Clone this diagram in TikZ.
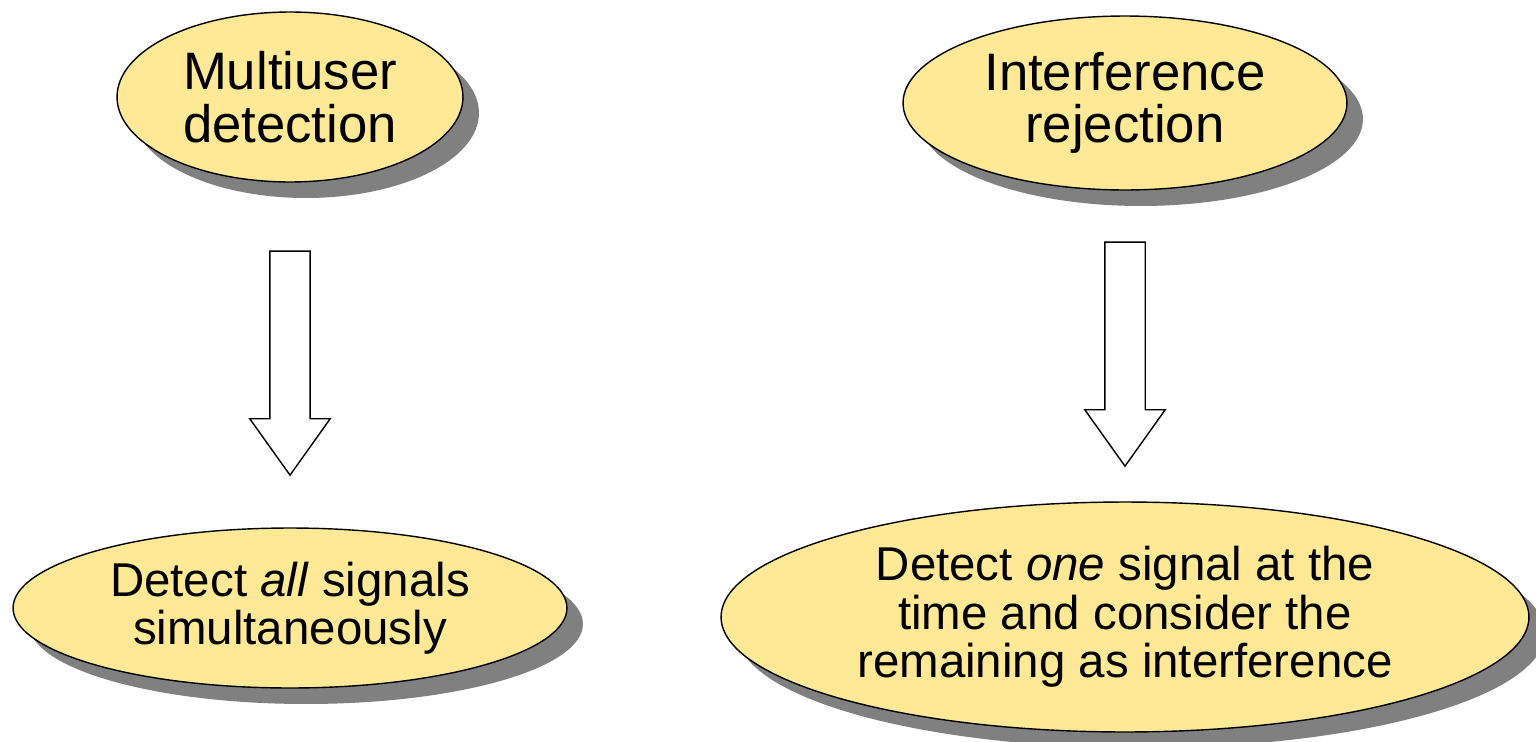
\documentclass[tikz,border=0pt]{standalone}
\usepackage{fontspec}
\setmainfont{Liberation Sans}
\usetikzlibrary{shapes.geometric,shapes.arrows,shadows}
\definecolor{ovalfill}{RGB}{255,233,150}
\definecolor{shadowgray}{RGB}{128,128,128}

\begin{document}
\begin{tikzpicture}[x=0.02cm,y=-0.02cm,line width=0.8pt,
    oval/.style={ellipse,draw,fill=ovalfill,inner sep=0pt,align=center,
      drop shadow={shadow xshift=0.32cm,shadow yshift=-0.32cm,fill=shadowgray,opacity=1}},
    big text/.style={font=\fontsize{30}{30}\selectfont},
    small text/.style={font=\fontsize{27}{27.5}\selectfont},
    blockarrow/.style={single arrow,draw,fill=white,rotate=-90,inner xsep=0pt,inner ysep=0.39cm,
      minimum height=4.48cm,single arrow head extend=0.4cm,single arrow tip angle=71}]

    \useasboundingbox (0,0) rectangle (1536,741);

    \node[oval,big text,minimum width=6.92cm,minimum height=3.4cm] (mud) at (290,97) {Multiuser\\detection};
    \node[oval,big text,minimum width=8.88cm,minimum height=3.48cm] (ir) at (1125,103) {Interference\\rejection};

    \node[blockarrow] (arrL) at (290,349) {};
    \node[blockarrow] (arrR) at (1125,340) {};

    \node[oval,small text,minimum width=11.08cm,minimum height=3.2cm] (all) at (290,608) {Detect \textit{all} signals\\simultaneously};
    \node[oval,small text,minimum width=16.16cm,minimum height=4.6cm] (one) at (1125,617) {Detect \textit{one} signal at the\\time and consider the\\remaining as interference};

\end{tikzpicture}
\end{document}
